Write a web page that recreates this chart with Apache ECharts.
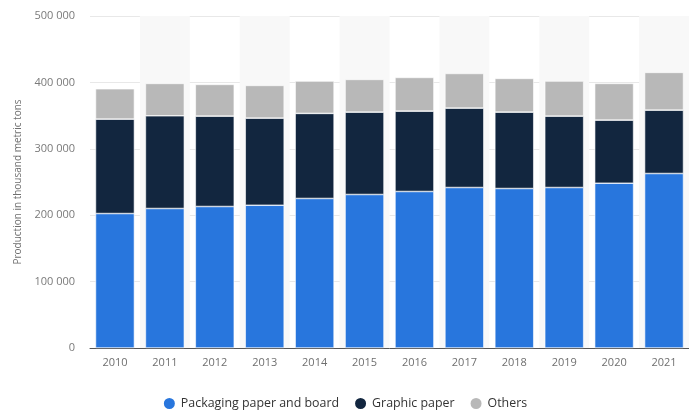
<!DOCTYPE html>
<html>
<head>
<meta charset="utf-8">
<script src="https://cdn.jsdelivr.net/npm/echarts@6/dist/echarts.min.js"></script>
<style>
html,body{margin:0;padding:0;background:#fff;}
#chart{width:689px;height:412px;}
</style>
</head>
<body>
<div id="chart"></div>
<script>
// Paper production by grade, thousand metric tons
const years = ['2010','2011','2012','2013','2014','2015','2016','2017','2018','2019','2020','2021'];
const packaging = [202500, 210100, 213100, 215000, 225200, 231200, 235700, 241700, 240200, 241700, 248200, 262800];
const graphic   = [142200, 139600, 136100, 131200, 128100, 124000, 121000, 119600, 115000, 107500,  95000,  95400];
const others    = [ 45700,  48800,  47800,  49300,  48700,  49300,  50800,  52200,  50800,  52800,  55300,  56900];
const seriesNames = ['Packaging paper and board', 'Graphic paper', 'Others'];
const seriesColors = ['#2876dd', '#12263f', '#b8b8b8'];
const yAxisTitle = 'Production in thousand metric tons';

const fmt = v => String(v).replace(/\B(?=(\d{3})+(?!\d))/g, ' ');

const chart = echarts.init(document.getElementById('chart'));
const values = [packaging, graphic, others];
chart.setOption({
  animation: false,
  textStyle: { fontFamily: '"Open Sans", "Noto Sans", sans-serif' },
  grid: { left: 90, right: 0, top: 16, bottom: 64 },
  legend: {
    top: 391,
    left: 'center',
    icon: 'circle',
    itemWidth: 13,
    itemHeight: 13,
    itemGap: 14,
    textStyle: { color: '#333', fontSize: 12.4 },
    data: seriesNames
  },
  xAxis: {
    type: 'category',
    data: years,
    axisLine: { lineStyle: { color: '#555', width: 1 } },
    axisTick: { show: false },
    axisLabel: { color: '#6f6f6f', fontSize: 11, margin: 9 },
    splitArea: { show: true, areaStyle: { color: ['rgba(255,255,255,0)', '#f8f8f8'] } }
  },
  yAxis: {
    type: 'value',
    min: 0,
    max: 500000,
    interval: 100000,
    name: yAxisTitle,
    nameLocation: 'middle',
    nameGap: 61,
    nameTextStyle: { color: '#6f6f6f', fontSize: 10 },
    axisLabel: { color: '#7a7a7a', fontSize: 11, formatter: fmt, margin: 15 },
    axisLine: { show: false },
    axisTick: { show: false },
    splitLine: { lineStyle: { color: '#e8e8e8', width: 1 } }
  },
  series: seriesNames.map((name, i) => ({
    name,
    type: 'bar',
    stack: 'total',
    barWidth: '78%',
    data: values[i],
    itemStyle: { color: seriesColors[i], borderColor: '#fff', borderWidth: 0.6 }
  }))
});
</script>
</body>
</html>
